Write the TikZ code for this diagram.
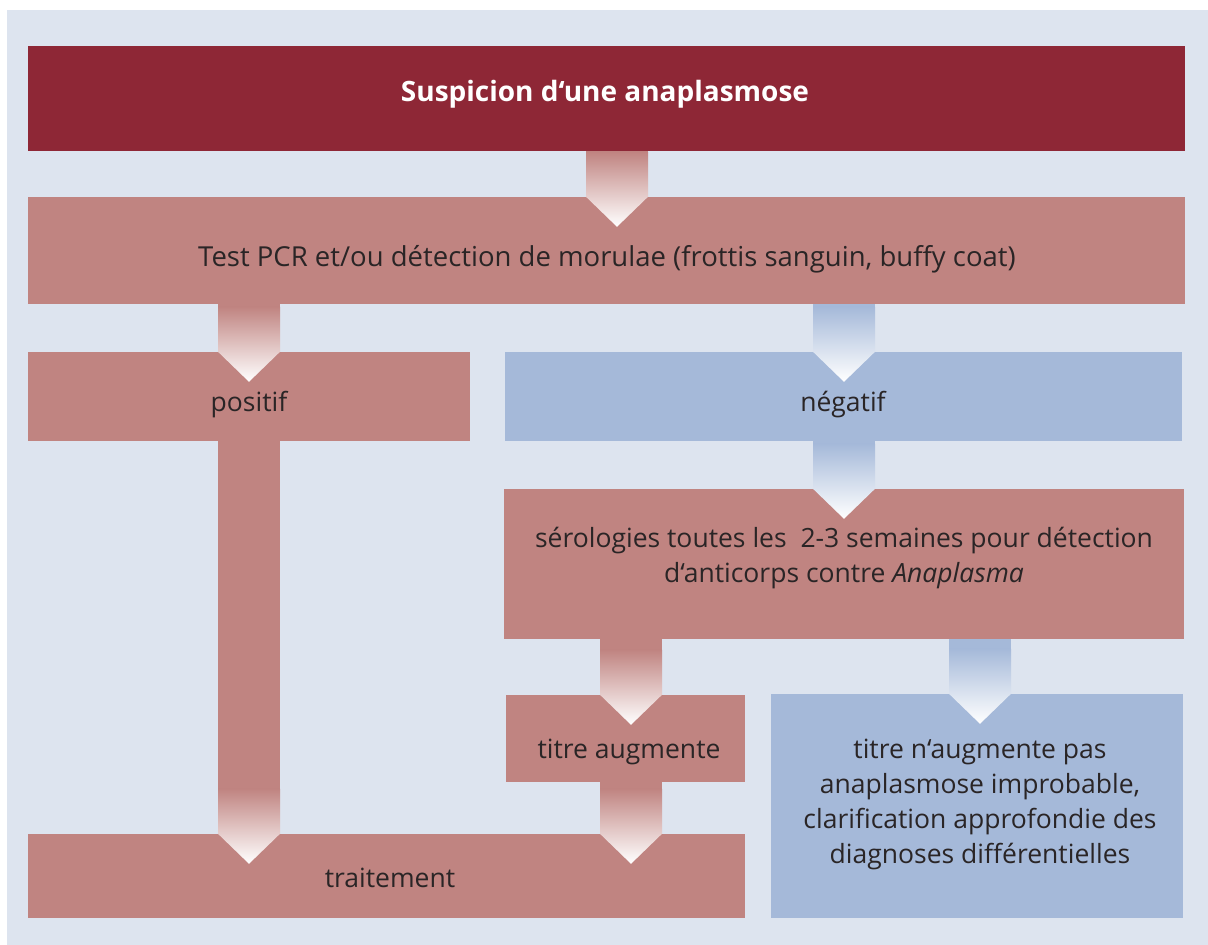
\documentclass[tikz,border=0pt]{standalone}
\usepackage{fontspec}
\setmainfont{Open Sans}
\usetikzlibrary{calc}
\definecolor{panel}{HTML}{DDE4EF}
\definecolor{dred}{HTML}{8E2736}
\definecolor{rose}{HTML}{C08481}
\definecolor{lblue}{HTML}{A5B9D9}
\definecolor{txt}{HTML}{2A2526}
% #1 x-coordinate name, #2 source node, #3 target node, #4 colour
\newcommand\flowarrow[4]{%
  \fill[#4] let \p1=(#1 |- #2.south), \p2=(#1 |- #3.north),
      \n1={min(\y1,\y2+45pt)} in
    ({\x1-31pt},\y1) rectangle ({\x1+31pt},{\n1*1pt});
  \shade[top color=#4, middle color=#4!72!white, bottom color=white]
    let \p1=(#1 |- #2.south), \p2=(#1 |- #3.north),
      \n1={min(\y1,\y2+45pt)} in
    ({\x1-31pt},{\n1*1pt}) -- ({\x1+31pt},{\n1*1pt}) -- ({\x1+31pt},\y2)
    -- (\x1,{\y2-30pt}) -- ({\x1-31pt},\y2) -- cycle;
}
\begin{document}
\begin{tikzpicture}[x=1pt,y=-1pt,
  box/.style={rectangle, inner sep=0pt, draw=none},
  lbl/.style={inner sep=0pt, text=txt, align=center,
    font=\fontsize{26.5}{35}\selectfont},
  ttl/.style={inner sep=0pt, text=white,
    font=\fontsize{28}{32}\selectfont\bfseries}]
\useasboundingbox (0,0) rectangle (1208,945);
\fill[panel] (7,10) rectangle (1208,945);

% boxes
\node[box, fill=dred, minimum width=1157, minimum height=105] (title) at (606.5,98.5) {};
\node[box, fill=rose, minimum width=1157, minimum height=107] (pcr) at (606.5,250.5) {};
\node[box, fill=rose, minimum width=442, minimum height=89] (pos) at (249,396.5) {};
\node[box, fill=lblue, minimum width=677, minimum height=89] (neg) at (843.5,396.5) {};
\node[box, fill=rose, minimum width=680, minimum height=150] (sero) at (844,564) {};
\node[box, fill=rose, minimum width=239, minimum height=87] (aug) at (625.5,738.5) {};
\node[box, fill=rose, minimum width=717, minimum height=84] (trt) at (386.5,876) {};
\node[box, fill=lblue, minimum width=412, minimum height=224] (nonaug) at (977,806) {};

% arrow axes
\coordinate (ax1) at (617,0);
\coordinate (ax2) at (249,0);
\coordinate (ax3) at (844,0);
\coordinate (ax4) at (631,0);
\coordinate (ax5) at (980,0);

\flowarrow{ax1}{title}{pcr}{rose}
\flowarrow{ax2}{pcr}{pos}{rose}
\flowarrow{ax3}{pcr}{neg}{lblue}
\flowarrow{ax3}{neg}{sero}{lblue}
\flowarrow{ax2}{pos}{trt}{rose}
\flowarrow{ax4}{sero}{aug}{rose}
\flowarrow{ax4}{aug}{trt}{rose}
\flowarrow{ax5}{sero}{nonaug}{lblue}

% texts
\node[ttl] (title-t) at (605,94) {Suspicion d‘une anaplasmose};
\node[lbl, font=\fontsize{27.5}{35}\selectfont] (pcr-t) at (607,259) {Test PCR et/ou détection de morulae (frottis sanguin, buffy coat)};
\node[lbl] (pos-t) at (249,405) {positif};
\node[lbl] (neg-t) at (843,405) {négatif};
\node[lbl] (sero-t) at (844,558) {sérologies toutes les~ 2-3 semaines pour détection\\d‘anticorps contre \textit{Anaplasma}};
\node[lbl] (aug-t) at (629,752) {titre augmente};
\node[lbl] (trt-t) at (390,878) {traitement};
\node[lbl] (nonaug-t) at (980,804) {titre n‘augmente pas\\anaplasmose improbable,\\clarification approfondie des\\diagnoses différentielles};
\end{tikzpicture}
\end{document}
